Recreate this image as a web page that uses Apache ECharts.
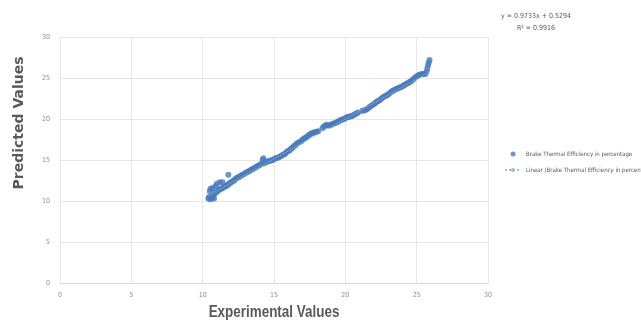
<!DOCTYPE html>
<html><head><meta charset="utf-8">
<script src="https://cdn.jsdelivr.net/npm/echarts@6/dist/echarts.min.js"></script>
<style>html,body{margin:0;padding:0;background:#fff}#c{width:641px;height:322px}</style>
</head><body><div id="c"></div>
<script>
// Scatter points: [experimental, predicted]
const pointsLow = [
 [10.4,10.3],[10.45,10.5],[10.5,10.4],[10.55,10.2],[10.6,10.6],[10.7,10.4],[10.8,10.3],[10.65,10.5],
 [10.5,11.2],[10.55,11.5],[10.7,11.6],[10.9,11.8],[11.0,12.1],[11.2,12.3],[11.4,12.3],[11.8,13.2],
 [10.8,10.8],[10.9,11.0],[11.0,11.1],[11.1,11.3],[11.2,11.4],[11.3,11.5],[11.4,11.6],[11.5,11.7],
 [11.6,11.8],[11.7,11.9],[11.8,12.0],[11.9,12.2],[12.0,12.3],[12.1,12.4],[12.2,12.5],[12.3,12.7],
 [12.4,12.8],[12.5,12.9],[12.6,13.0],[12.7,13.1],[12.8,13.2],[12.9,13.3],[13.0,13.4],[13.1,13.5],
 [13.2,13.6],[13.3,13.7],[13.4,13.8],[13.5,13.9],[13.6,14.0],[13.7,14.1],[13.8,14.2],[13.9,14.3],
 [14.0,14.4],[14.1,14.5],[14.2,15.0],[14.25,15.2],[14.3,14.6],[14.4,14.7],[14.5,14.8],[14.6,14.85],
 [14.7,14.9],[14.8,14.95],[14.9,15.0],[15.0,15.1],[15.1,15.2],[15.2,15.25]
];
const pointsMid = [
 [15.3,15.3],[15.4,15.4],[15.5,15.5],[15.6,15.6],[15.7,15.7],[15.8,15.8],[15.9,16.0],[16.0,16.1],
 [16.1,16.2],[16.2,16.4],[16.3,16.5],[16.4,16.7],[16.5,16.8],[16.6,17.0],[16.7,17.1],[16.8,17.2],
 [16.9,17.3],[17.0,17.5],[17.1,17.6],[17.2,17.7],[17.3,17.8],[17.4,18.0],[17.5,18.1],[17.6,18.2],
 [17.7,18.3],[17.8,18.35],[17.9,18.4],[18.0,18.45],[18.1,18.5],[18.4,18.9],[18.5,19.1],[18.6,19.2],
 [18.7,19.3],[18.8,19.2],[18.9,19.2],[19.0,19.3],[19.1,19.4],[19.2,19.45],[19.3,19.5],[19.4,19.6],
 [19.5,19.7],[19.6,19.8],[19.7,19.9],[19.8,19.95],[19.9,20.0],[20.0,20.1],[20.1,20.2],[20.2,20.25],
 [20.3,20.3],[20.4,20.35],[20.5,20.4],[20.6,20.5],[20.7,20.6],[20.8,20.7],[20.9,20.8]
];
const pointsHigh = [
 [21.2,21.0],[21.3,21.05],[21.4,21.1],[21.5,21.2],[21.6,21.3],[21.7,21.45],[21.8,21.6],[21.9,21.7],
 [22.0,21.8],[22.1,21.95],[22.2,22.1],[22.3,22.2],[22.4,22.3],[22.5,22.45],[22.6,22.6],[22.7,22.7],
 [22.8,22.8],[22.9,22.9],[23.0,23.0],[23.1,23.15],[23.2,23.3],[23.3,23.4],[23.4,23.5],[23.5,23.6],
 [23.6,23.7],[23.7,23.75],[23.8,23.8],[23.9,23.9],[24.0,24.0],[24.1,24.1],[24.2,24.2],[24.3,24.3],
 [24.4,24.4],[24.5,24.5],[24.6,24.6],[24.7,24.75],[24.8,24.9],[24.9,25.05],[25.0,25.2],[25.1,25.3],
 [25.2,25.4],[25.3,25.45],[25.4,25.5],[25.5,25.5],[25.6,25.5],[25.7,25.8],[25.75,26.2],[25.8,26.6],
 [25.85,26.9],[25.9,27.2]
];
// Linear trendline endpoints (from y = 0.9733x + 0.5294)
const trendLine = [[10.4,10.65],[25.9,25.74]];
const xTicks = [0,5,10,15,20,25,30];
const yTicks = [0,5,10,15,20,25,30];
const seriesName = 'Brake Thermal Efficiency in percentage';
const trendName = 'Linear (Brake Thermal Efficiency in percentage)';
const eqText = 'y = 0.9733x + 0.5294';
const r2Text = 'R² = 0.9916';
const xTitle = 'Experimental Values';
const yTitle = 'Predicted Values';

const cond = '"DejaVu Sans Condensed","Liberation Sans Narrow",sans-serif';
const chart = echarts.init(document.getElementById('c'));
chart.setOption({
  animation:false,
  grid:{left:60,right:153,top:37,bottom:39,outerBoundsMode:'none',containLabel:false},
  xAxis:{type:'value',min:xTicks[0],max:xTicks[xTicks.length-1],interval:5,
    axisLine:{show:true,lineStyle:{color:'#d9d9d9'}},axisTick:{show:false},
    axisLabel:{fontSize:7,color:'#8c8c8c',margin:9,fontFamily:cond},
    splitLine:{lineStyle:{color:'#e6e6e6'}}},
  yAxis:{type:'value',min:yTicks[0],max:yTicks[yTicks.length-1],interval:5,
    axisLine:{show:true,lineStyle:{color:'#e6e6e6'}},axisTick:{show:false},
    axisLabel:{fontSize:7,color:'#8c8c8c',margin:10,fontFamily:cond},
    splitLine:{lineStyle:{color:'#e6e6e6'}}},
  legend:{orient:'vertical',left:499,top:146,itemGap:10,itemWidth:16,itemHeight:5,
    textStyle:{fontSize:6,color:'#595959',fontFamily:cond},
    data:[{name:seriesName,icon:'circle'},{name:trendName}]},
  graphic:[
    {type:'text',x:536,y:16,style:{text:eqText,fontSize:7,fill:'#595959',fontFamily:cond,align:'center',verticalAlign:'middle'}},
    {type:'text',x:536,y:28,style:{text:r2Text,fontSize:7,fill:'#595959',fontFamily:cond,align:'center',verticalAlign:'middle'}},
    {type:'text',x:274,y:313,scaleX:0.84,style:{text:xTitle,fontSize:16,fontWeight:'bold',fill:'#595959',fontFamily:'"Liberation Sans",Arial,sans-serif',align:'center',verticalAlign:'middle'}},
    {type:'text',x:19,y:123,rotation:Math.PI/2,style:{text:yTitle,fontSize:14,fontWeight:'bold',fill:'#595959',fontFamily:'"DejaVu Sans",sans-serif',align:'center',verticalAlign:'middle'}}
  ],
  series:[
    {name:seriesName,type:'scatter',symbolSize:6,itemStyle:{color:'#4a7cba'},
      data:[].concat(pointsLow,pointsMid,pointsHigh),z:3},
    {name:trendName,type:'line',data:trendLine,showSymbol:false,symbol:'none',
      lineStyle:{color:'#9dbbe0',width:1,type:'dotted'},itemStyle:{color:'#9dbbe0'},z:4}
  ]
});
</script></body></html>
